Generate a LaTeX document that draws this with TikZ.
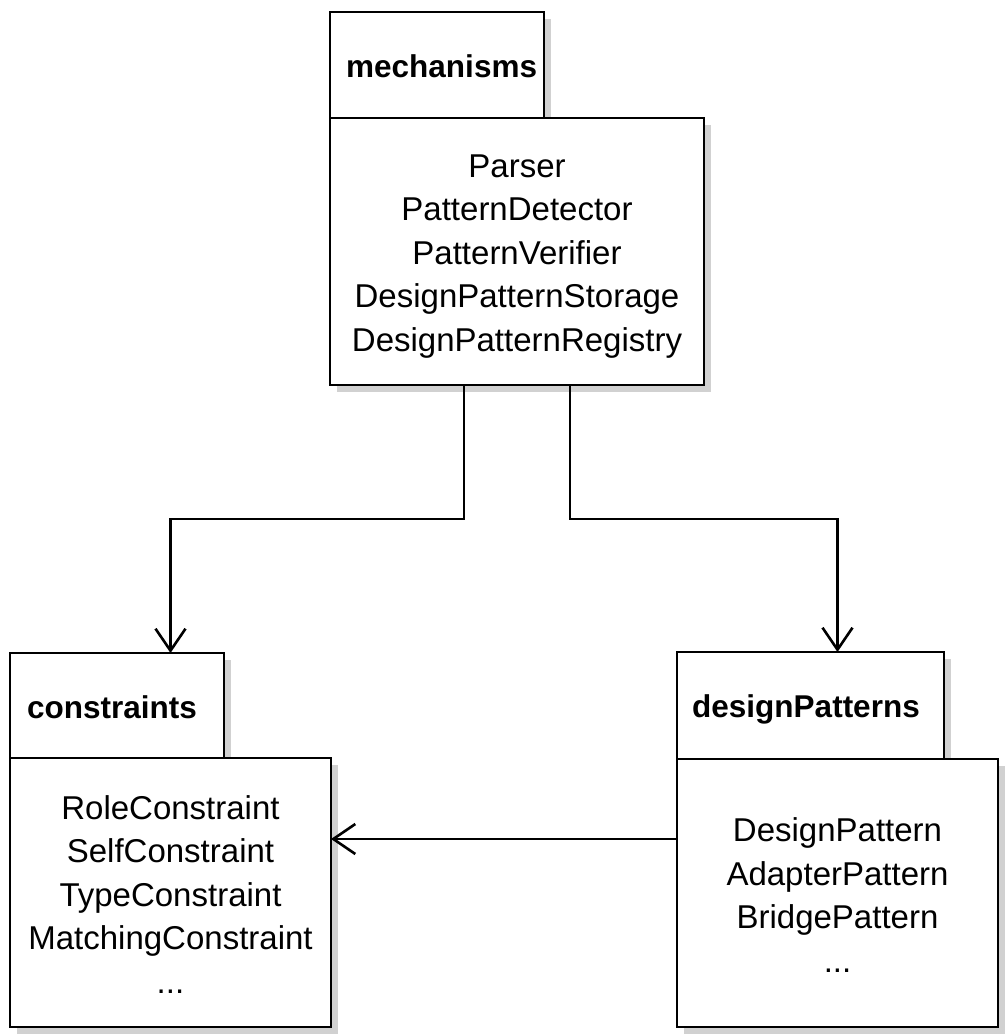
\documentclass[tikz,border=0pt]{standalone}
\usepackage{fontspec}
\setmainfont{Liberation Sans}
\usetikzlibrary{arrows.meta,shadows}
\begin{document}
\begin{tikzpicture}[x=1pt,y=-1pt,
  shade box/.style={draw=black, line width=2.6pt, fill=white, outer sep=0pt, inner sep=0pt,
    drop shadow={shadow xshift=7pt, shadow yshift=-7pt, fill=black!18, opacity=1}},
  pkgtab/.style={shade box, anchor=north west},
  pkgbody/.style={shade box, anchor=north west},
  bodytext/.style={align=center, inner sep=0pt, font=\fontsize{33}{43.5}\selectfont},
  tablabel/.style={anchor=base west, inner sep=0pt, font=\fontsize{31.5}{38}\selectfont\bfseries},
  dep/.style={draw=black, line width=2.6pt,
    -{Straight Barb[length=22pt, width=30pt, line width=2.6pt]}}
]
\useasboundingbox (0,0) rectangle (1004,1035);

% package: mechanisms
\node[pkgtab, minimum width=214pt, minimum height=106pt] (mechTab) at (330,12) {};
\node[pkgbody, minimum width=374pt, minimum height=267pt] (mechBody) at (330,118) {};
\node[tablabel] (mechLabel) at ([shift={(16pt,-66pt)}]mechTab.north west) {mechanisms};
\node[bodytext] (mechText) at ([yshift=-5pt]mechBody.center)
  {Parser\\PatternDetector\\PatternVerifier\\DesignPatternStorage\\DesignPatternRegistry};

% package: constraints
\node[pkgtab, minimum width=214pt, minimum height=105pt] (consTab) at (10,653) {};
\node[pkgbody, minimum width=321pt, minimum height=269pt] (consBody) at (10,758) {};
\node[tablabel] (consLabel) at ([shift={(17pt,-65pt)}]consTab.north west) {constraints};
\node[bodytext] (consText) at ([yshift=-2pt]consBody.center)
  {RoleConstraint\\SelfConstraint\\TypeConstraint\\MatchingConstraint\\...};

% package: designPatterns
\node[pkgtab, minimum width=267pt, minimum height=107pt] (dpTab) at (677,652) {};
\node[pkgbody, minimum width=321pt, minimum height=268pt] (dpBody) at (677,759) {};
\node[tablabel] (dpLabel) at ([shift={(15pt,-65pt)}]dpTab.north west) {designPatterns};
\node[bodytext] (dpText) at ([yshift=-2pt]dpBody.center)
  {DesignPattern\\AdapterPattern\\BridgePattern\\...};

% dependencies
\path (mechBody.south west) ++(134,0) coordinate (mechOutL)
      (mechBody.south west) ++(240,0) coordinate (mechOutR)
      (dpBody.north west) ++(0,80) coordinate (dpOut);
\draw[dep] (mechOutL) -- ++(0,134) -| (consBody.north |- consTab.north);
\draw[dep] (mechOutR) -- ++(0,134) -| (dpBody.north |- dpTab.north);
\draw[dep] (dpOut) -- (consBody.east |- dpOut);
\end{tikzpicture}
\end{document}
